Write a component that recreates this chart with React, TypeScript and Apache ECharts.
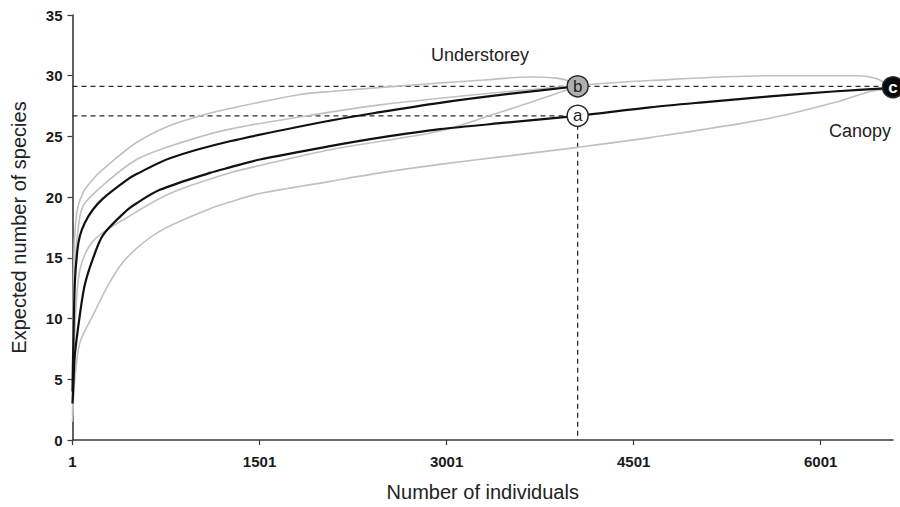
import React, { useEffect, useRef } from "react";
import * as echarts from "echarts";

// Rarefaction curves: [number of individuals, expected species]
const understorey: number[][] = [
  [1, 4], [7, 7.6], [20, 13], [40, 15.6], [60, 16.8], [100, 17.9], [167, 19.0], [247, 19.9],
  [435, 21.4], [515, 21.9], [782, 23.2], [1263, 24.6], [2066, 26.3],
  [2466, 27.0], [2948, 27.77], [3500, 28.5], [4052, 29.13],
];
const understoreyUpper: number[][] = [
  [1, 3], [5, 10], [12, 15], [20, 17], [40, 19], [87, 20.4], [167, 21.5], [247, 22.3],
  [500, 24.4], [782, 25.9], [1047, 26.76], [1263, 27.3], [1825, 28.45], [2066, 28.7],
  [2948, 29.4], [3300, 29.65], [3670, 29.9], [3886, 29.8], [4000, 29.5], [4052, 29.13],
];
const understoreyLower: number[][] = [
  [1, 2], [20, 9], [60, 14], [167, 16.4], [435, 18.3], [782, 20.3], [1263, 22.0],
  [1504, 22.6], [2066, 23.9], [2948, 25.45], [3373, 26.8], [3700, 27.9], [4052, 29.13],
];
const canopy: number[][] = [
  [1, 3], [7, 4.3], [20, 7.0], [60, 10.3], [100, 12.8], [167, 15.0], [247, 16.9],
  [435, 18.9], [515, 19.5], [702, 20.6], [1103, 22.0], [1263, 22.45], [1504, 23.1],
  [2066, 24.2], [2466, 24.9], [2948, 25.6], [3500, 26.15], [4052, 26.7], [4632, 27.4],
  [5100, 27.85], [5594, 28.3], [6100, 28.7], [6581, 29.0],
];
const canopyUpper: number[][] = [
  [1, 3], [20, 14], [44, 17.2], [87, 19.3], [247, 21.0], [515, 23.1], [782, 24.2],
  [1263, 25.6], [2066, 27.0], [2466, 27.6], [2948, 28.15], [3500, 28.7], [4052, 29.2],
  [4632, 29.6], [5594, 30.0], [6300, 30.0], [6450, 29.75], [6581, 29.0],
];
const canopyLower: number[][] = [
  [1, 1.5], [20, 5], [60, 8], [167, 10.3], [300, 13], [435, 15.0], [702, 17.2],
  [1103, 19.05], [1263, 19.6], [1504, 20.3], [2066, 21.3], [2466, 22.0], [2948, 22.7],
  [3500, 23.4], [4052, 24.1], [4632, 24.9], [5594, 26.5], [6150, 27.9], [6400, 28.7],
  [6581, 29.0],
];
// Reference points a, b, c
const pointA: number[] = [4052, 26.7];
const pointB: number[] = [4052, 29.13];
const pointC: number[] = [6581, 29.05];
const xMaxN = 6581;
const xTickValues: number[] = [1, 1501, 3001, 4501, 6001];

const shift = (arr: number[][]) => arr.map(([n, v]) => [n - 1, v]);

export default function App() {
  const ref = useRef<HTMLDivElement>(null);
  useEffect(() => {
    if (!ref.current) return;
    const chart = echarts.init(ref.current, null, { renderer: "svg" });
    const font = "'Liberation Sans', Arial, sans-serif";
    const gray = "#c0c0c0";
    const dash = { color: "#2a2a2a", width: 1.3, type: [5, 4] as number[] };
    const curve = (data: number[][], color: string, width: number, z: number) => ({
      type: "line",
      data: shift(data),
      showSymbol: false,
      smooth: 0.3,
      lineStyle: { color, width },
      z,
      silent: true,
    });
    const marker = (p: number[], label: string, fill: string, textColor: string, size: number) => ({
      type: "scatter",
      data: [[p[0] - 1, p[1]]],
      symbolSize: size,
      itemStyle: { color: fill, borderColor: "#2a2a2a", borderWidth: 1.5, opacity: 1 },
      label: {
        show: true,
        position: "inside",
        formatter: label,
        color: textColor,
        fontFamily: font,
        fontSize: 17,
        fontWeight: label === "c" ? "bold" : "normal",
      },
      clip: false,
      z: 10,
    });
    chart.setOption({
      animation: false,
      backgroundColor: "#ffffff",
      grid: { left: 72.5, right: 7, top: 15, bottom: 64 },
      xAxis: {
        type: "value",
        min: 0,
        max: xMaxN - 1,
        interval: 1500,
        splitLine: { show: false },
        axisLine: { lineStyle: { color: "#3a3a3a", width: 1.6 } },
        axisTick: {
          length: 5,
          lineStyle: { color: "#3a3a3a", width: 1.2 },
          customValues: xTickValues.map((v) => v - 1),
        },
        axisLabel: {
          customValues: xTickValues.map((v) => v - 1),
          formatter: (v: number) => String(v + 1),
          color: "#1a1a1a",
          fontWeight: "bold",
          fontSize: 15,
          fontFamily: font,
          margin: 14,
        },
        name: "Number of individuals",
        nameLocation: "middle",
        nameGap: 42,
        nameTextStyle: { fontSize: 20, color: "#222", fontFamily: font },
      },
      yAxis: {
        type: "value",
        min: 0,
        max: 35,
        interval: 5,
        splitLine: { show: false },
        axisLine: { show: true, lineStyle: { color: "#3a3a3a", width: 1.6 } },
        axisTick: { show: true, length: 5, lineStyle: { color: "#3a3a3a", width: 1.2 } },
        axisLabel: {
          color: "#1a1a1a",
          fontWeight: "bold",
          fontSize: 15,
          fontFamily: font,
          margin: 10,
        },
        name: "Expected number of species",
        nameLocation: "middle",
        nameGap: 44,
        nameTextStyle: { fontSize: 20, color: "#222", fontFamily: font },
      },
      series: [
        {
          type: "line",
          data: [[0, pointB[1]], [xMaxN - 1, pointB[1]]],
          showSymbol: false,
          lineStyle: dash,
          z: 1,
          silent: true,
        },
        {
          type: "line",
          data: [[0, pointA[1]], [pointA[0] - 1, pointA[1]]],
          showSymbol: false,
          lineStyle: dash,
          z: 1,
          silent: true,
        },
        {
          type: "line",
          data: [[pointA[0] - 1, pointA[1]], [pointA[0] - 1, 0]],
          showSymbol: false,
          lineStyle: dash,
          z: 1,
          silent: true,
        },
        curve(understoreyUpper, gray, 1.6, 2),
        curve(understoreyLower, gray, 1.6, 2),
        curve(canopyUpper, gray, 1.6, 2),
        curve(canopyLower, gray, 1.6, 2),
        curve(understorey, "#111111", 2.2, 3),
        curve(canopy, "#111111", 2.2, 3),
        marker(pointA, "a", "#ffffff", "#222222", 21),
        marker(pointB, "b", "#b0b0b0", "#222222", 21),
        marker(pointC, "c", "#0a0a0a", "#ffffff", 21),
      ],
      graphic: [
        {
          type: "text",
          x: 480,
          y: 55,
          style: {
            text: "Understorey",
            fontSize: 18,
            fontFamily: font,
            fill: "#222",
            textAlign: "center",
            textVerticalAlign: "middle",
          },
        },
        {
          type: "text",
          x: 860,
          y: 131,
          style: {
            text: "Canopy",
            fontSize: 18,
            fontFamily: font,
            fill: "#222",
            textAlign: "center",
            textVerticalAlign: "middle",
          },
        },
      ],
    });
    return () => chart.dispose();
  }, []);
  return (
    <div
      ref={ref}
      style={{ position: "fixed", left: 0, top: 0, width: 900, height: 507, background: "#fff" }}
    />
  );
}
